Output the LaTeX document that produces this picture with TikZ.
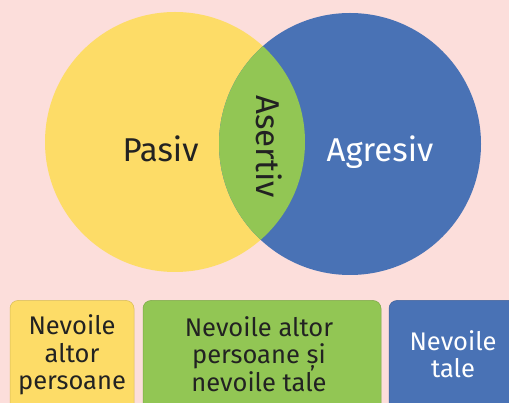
\documentclass[tikz,border=0pt]{standalone}
\usepackage{fontspec}
\setmainfont{Fira Sans}
\definecolor{bgpink}{RGB}{252,222,219}
\definecolor{passiveyellow}{RGB}{253,220,103}
\definecolor{assertgreen}{RGB}{146,198,84}
\definecolor{aggrblue}{RGB}{73,114,181}
\definecolor{inktext}{RGB}{34,34,34}
\tikzset{
  bigword/.style={font=\fontsize{33}{36}\selectfont, inner sep=0pt},
  boxtext/.style={font=\fontsize{25.5}{27.5}\selectfont, align=center, inner sep=0pt},
  keybox/.style={rounded corners=8pt, line width=0.5pt},
}
\begin{document}
\begin{tikzpicture}[x=1pt,y=-1pt]
  % page background
  \fill[bgpink] (0,0) rectangle (509,403);
  \useasboundingbox (0,0) rectangle (509,403);

  % the two circles and their overlap
  \fill[passiveyellow] (175,142) circle[radius=130];
  \fill[aggrblue] (350,144) circle[radius=131];
  \begin{scope}
    \clip (175,142) circle[radius=130];
    \fill[assertgreen] (350,144) circle[radius=131];
  \end{scope}

  % circle labels
  \node[bigword, text=inktext, anchor=base] (pasiv) at (160.5,162) {Pasiv};
  \node[bigword, text=white, anchor=base] (agresiv) at (380,162) {Agresiv};
  \node[bigword, text=inktext, anchor=base, rotate=-90] (asertiv) at (256,146.5) {Asertiv};

  % legend boxes
  \draw[keybox, fill=passiveyellow, draw=passiveyellow!85!black] (10,300.5) rectangle (134,420);
  \draw[keybox, fill=assertgreen, draw=assertgreen!85!black] (143,300.5) rectangle (381,420);
  \draw[keybox, fill=aggrblue, draw=aggrblue!85!black] (389,300.5) rectangle (530,420);

  \node[boxtext, text=inktext] (needsothers) at (72,355) {Nevoile\\altor\\persoane};
  \node[boxtext, text=inktext] (needsboth) at (259,354) {Nevoile altor\\persoane și\\nevoile tale};
  \node[boxtext, text=white] (needsyours) at (453,354) {Nevoile\\tale};
\end{tikzpicture}
\end{document}
